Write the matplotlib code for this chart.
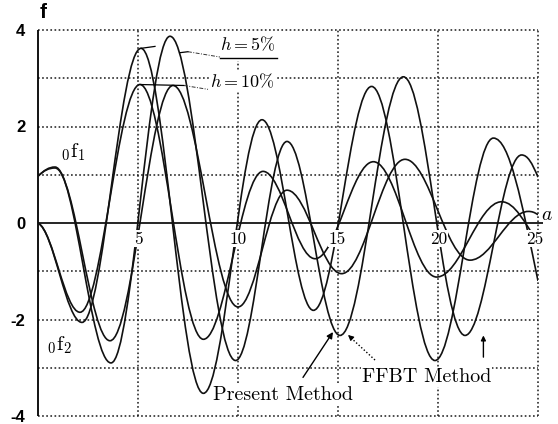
import matplotlib
matplotlib.use("Agg")
import matplotlib.pyplot as plt
from matplotlib.path import Path
from matplotlib.patches import PathPatch

plt.rcParams['mathtext.fontset'] = 'cm'

# ---- data: extremes (a, f) of each curve; slope at the ends ----
a_f1_h5 = [0.0, 0.85, 3.65, 6.6, 9.88, 12.45, 15.1, 18.27, 21.35, 24.18, 25.0]
f1_h5 = [0.97, 1.16, -2.9, 3.87, -2.85, 1.69, -2.33, 3.03, -2.33, 1.41, 0.95]
s_f1_h5 = [0.4, 0, 0, 0, 0, 0, 0, 0, 0, 0, -1.0]

a_f1_h10 = [0.0, 0.85, 3.6, 6.75, 10.0, 12.45, 15.18, 18.35, 21.6, 24.52, 25.0]
f1_h10 = [0.97, 1.14, -2.44, 2.85, -1.74, 0.68, -1.05, 1.32, -0.77, 0.24, 0.17]
s_f1_h10 = [0.4, 0, 0, 0, 0, 0, 0, 0, 0, 0, -0.3]

a_f2_h5 = [0.0, 2.2, 5.15, 8.27, 11.2, 13.77, 16.68, 19.85, 22.77, 25.0]
f2_h5 = [0.0, -2.06, 3.62, -3.53, 2.14, -1.81, 2.83, -2.85, 1.76, -1.2]
s_f2_h5 = [-0.2, 0, 0, 0, 0, 0, 0, 0, 0, -2.0]

a_f2_h10 = [0.0, 2.1, 5.1, 8.27, 11.25, 13.85, 16.77, 19.93, 23.18, 25.0]
f2_h10 = [0.0, -1.85, 2.87, -2.41, 1.07, -0.74, 1.27, -1.12, 0.44, -0.4]
s_f2_h10 = [-0.2, 0, 0, 0, 0, 0, 0, 0, 0, -0.6]

xtick_vals = [5, 10, 15, 20, 25]
xtick_labels = ['5', '10', '15', '20', '25']
ytick_vals = [-4, -2, 0, 2, 4]
ytick_labels = ['-4', '-2', '0', '2', '4']


def smooth_path(a, f, s, c=0.364):
    verts = [(a[0], f[0])]
    codes = [Path.MOVETO]
    for i in range(len(a) - 1):
        dx = a[i + 1] - a[i]
        verts += [(a[i] + c * dx, f[i] + c * dx * s[i]),
                  (a[i + 1] - c * dx, f[i + 1] - c * dx * s[i + 1]),
                  (a[i + 1], f[i + 1])]
        codes += [Path.CURVE4] * 3
    return Path(verts, codes)


fig = plt.figure(figsize=(5.58, 4.24), dpi=100)
ax = fig.add_axes([38 / 558, 8 / 424, 500 / 558, 386 / 424])
ax.set_xlim(0, 25)
ax.set_ylim(-4, 4)
for sp in ax.spines.values():
    sp.set_visible(False)
ax.set_xticks([])
ax.set_yticks(ytick_vals)
ax.set_yticklabels(ytick_labels, fontweight='bold', fontfamily='Liberation Sans', fontsize=12)
ax.tick_params(axis='y', length=0, pad=9)

dot = (0, (1.1, 1.6))
gc = '#1a1a1a'
for y in [-4, -3, -2, -1, 1, 2, 3, 4]:
    ax.hlines(y, 0, 25, colors=gc, linestyles=dot, lw=1.1, zorder=1, clip_on=False)
for x in [5, 15, 20, 25]:
    ax.vlines(x, -4, 4, colors=gc, linestyles=dot, lw=1.1, zorder=1, clip_on=False)
ax.vlines(10, -4, 3.35, colors=gc, linestyles=dot, lw=1.1, zorder=1, clip_on=False)
ax.vlines(0, -4, 4, colors='k', lw=1.3, zorder=2, clip_on=False)
ax.hlines(0, 0, 25.25, colors='k', lw=1.2, zorder=2, clip_on=False)

for a, f, s in [(a_f1_h5, f1_h5, s_f1_h5), (a_f1_h10, f1_h10, s_f1_h10),
                (a_f2_h5, f2_h5, s_f2_h5), (a_f2_h10, f2_h10, s_f2_h10)]:
    ax.add_patch(PathPatch(smooth_path(a, f, s), fill=False, edgecolor='#111111',
                           lw=1.2, zorder=3))

wb = dict(facecolor='white', edgecolor='none', pad=0.6)
nudge = {25: -0.15, 15: -0.05, 20: 0.05}
for v, lab in zip(xtick_vals, xtick_labels):
    ax.text(v + nudge.get(v, 0), -0.33, lab, family='cmr10', fontsize=12.5,
            ha='center', va='center', bbox=wb, zorder=5)

ax.text(0.25, 4.36, 'f', fontfamily='Liberation Sans', fontweight='bold', fontsize=15,
        ha='center', va='center', clip_on=False)
ax.text(25.45, 0.17, '$a$', fontsize=14, ha='center', va='center', clip_on=False)

# h labels and leaders
ax.text(10.5, 3.68, r'$h=5\%$', fontsize=13, ha='center', va='center', bbox=wb, zorder=6)
ax.text(10.2, 2.93, r'$h=10\%$', fontsize=13, ha='center', va='center', bbox=wb, zorder=6)
ax.plot([5.15, 5.85], [3.62, 3.66], color='k', lw=0.9, zorder=4)
ax.plot([7.1, 7.5], [3.53, 3.55], color='k', lw=0.9, zorder=4)
ax.plot([7.5, 9.1], [3.55, 3.44], color='#333333', lw=0.7, ls=(0, (4, 1.5, 1, 1.5)), zorder=4)
ax.plot([9.1, 11.95], [3.43, 3.43], color='k', lw=1.0, zorder=7)
ax.plot([5.1, 7.3], [2.87, 2.85], color='k', lw=0.9, zorder=4)
ax.plot([7.3, 8.5], [2.85, 2.77], color='#333333', lw=0.7, ls=(0, (4, 1.5, 1, 1.5)), zorder=4)

# curve labels
ax.text(1.75, 1.46, r'${}_0\mathrm{f}_1$', fontsize=15, ha='center', va='center', zorder=6)
ax.text(1.1, -2.54, r'${}_0\mathrm{f}_2$', fontsize=15, ha='center', va='center', zorder=6)

# method labels and arrows
ax.text(8.75, -3.57, 'Present Method', family='cmr10', fontsize=14.5, ha='left',
        va='center', bbox=wb, zorder=6)
ax.text(16.2, -3.19, 'FFBT Method', family='cmr10', fontsize=14.5, ha='left',
        va='center', bbox=wb, zorder=6)
ax.annotate('', xy=(14.75, -2.26), xytext=(13.25, -3.2),
            arrowprops=dict(arrowstyle='-|>', lw=1.0, color='k', mutation_scale=9,
                            shrinkA=0, shrinkB=0), zorder=7)
ax.plot([16.85, 15.62], [-2.84, -2.37], color='k', lw=1.0, ls=(0, (1, 1.5)), zorder=7)
ax.annotate('', xy=(15.5, -2.32), xytext=(15.66, -2.38),
            arrowprops=dict(arrowstyle='-|>', lw=0.8, color='k', mutation_scale=8,
                            shrinkA=0, shrinkB=0), zorder=7)
ax.annotate('', xy=(22.27, -2.33), xytext=(22.27, -2.78),
            arrowprops=dict(arrowstyle='-|>', lw=1.0, color='k', mutation_scale=7,
                            shrinkA=0, shrinkB=0), zorder=7)

fig.savefig('out.png', dpi=100, facecolor='white')
